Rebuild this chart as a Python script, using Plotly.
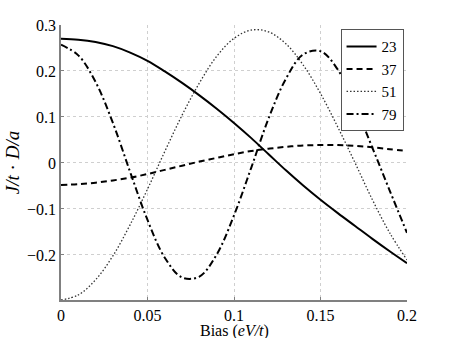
import plotly.graph_objects as go

bias = [0.00, 0.01, 0.02, 0.03, 0.04, 0.05, 0.06, 0.07, 0.08, 0.09, 0.10,
        0.11, 0.12, 0.13, 0.14, 0.15, 0.16, 0.17, 0.18, 0.19, 0.20]

n23 = [0.270, 0.268, 0.263, 0.254, 0.240, 0.222, 0.199, 0.174, 0.147, 0.118, 0.087,
       0.054, 0.019, -0.016, -0.049, -0.080, -0.109, -0.137, -0.165, -0.192, -0.218]
n37 = [-0.048, -0.046, -0.043, -0.038, -0.032, -0.024, -0.015, -0.006, 0.003, 0.011, 0.019,
       0.026, 0.031, 0.035, 0.038, 0.039, 0.039, 0.037, 0.034, 0.030, 0.026]
n51 = [-0.298, -0.287, -0.254, -0.202, -0.134, -0.057, 0.025, 0.104, 0.174, 0.232, 0.271,
       0.289, 0.285, 0.259, 0.213, 0.151, 0.078, 0.000, -0.080, -0.152, -0.211]
n79 = [0.257, 0.234, 0.176, 0.087, -0.020, -0.124, -0.206, -0.249, -0.247, -0.199, -0.114,
       -0.010, 0.097, 0.183, 0.236, 0.243, 0.203, 0.124, 0.033, -0.060, -0.152]

series = [
    ("23", n23, "solid", 2, "black"),
    ("37", n37, "6px,4px", 2, "black"),
    ("51", n51, "1.5px,2px", 1.3, "#333333"),
    ("79", n79, "7px,3px,2px,3px", 2, "black"),
]

FONT = "Liberation Serif"

fig = go.Figure()
for name, ys, dash, width, color in series:
    fig.add_trace(go.Scatter(
        x=bias, y=ys, name=name, mode="lines",
        line=dict(color=color, dash=dash, width=width, shape="spline"),
    ))

axis_common = dict(
    showgrid=True, gridcolor="#cfcfcf", griddash="dot", gridwidth=1,
    zeroline=False, showline=True, linecolor="#808080", linewidth=1.5,
    ticks="inside", ticklen=3, tickcolor="#808080",
    tickfont=dict(family=FONT, size=16, color="black"),
    automargin=False,
)

fig.update_layout(
    width=450, height=338,
    margin=dict(l=61, r=43, t=25, b=38),
    paper_bgcolor="white", plot_bgcolor="white",
    font=dict(family=FONT, color="black"),
    showlegend=True,
    legend=dict(
        x=0.99, y=0.985, xanchor="right", yanchor="top",
        bgcolor="white", bordercolor="#555555", borderwidth=1,
        font=dict(family=FONT, size=15, color="black"),
        tracegroupgap=0, itemwidth=30,
    ),
    xaxis=dict(
        axis_common, range=[0, 0.2],
        tickvals=[0, 0.05, 0.1, 0.15, 0.2],
        ticktext=["0", "0.05", "0.1", "0.15", "0.2"],
    ),
    yaxis=dict(
        axis_common, range=[-0.298, 0.3],
        tickvals=[-0.2, -0.1, 0, 0.1, 0.2, 0.3],
        ticktext=["\u22120.2", "\u22120.1", "0", "0.1", "0.2", "0.3"],
        title=dict(text="<i>J/t</i> \u00b7 <i>D/a</i>", font=dict(family=FONT, size=19), standoff=2),
    ),
)

# x-axis title as an annotation so it sits tight under the tick labels
fig.add_annotation(
    text="Bias (<i>eV/t</i>)", xref="paper", yref="paper",
    x=0.5, y=-0.074, xanchor="center", yanchor="top",
    showarrow=False, font=dict(family=FONT, size=16, color="black"),
)

# drop the browser's default body margin so the figure sits at the page corner
fig.write_html(
    "out.html",
    config={"displayModeBar": False},
    post_script="document.body.style.margin='0';",
)
